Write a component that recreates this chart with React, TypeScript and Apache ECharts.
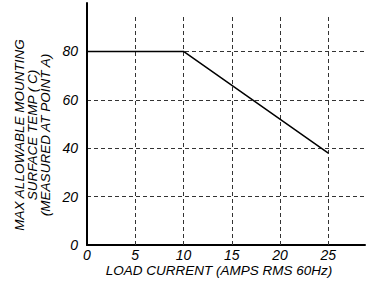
import React, { useEffect, useRef } from "react";
import * as echarts from "echarts";

const currentAmps = [0, 10, 25];
const surfaceTemp = [80, 80, 38];
const xGridValues = [5, 10, 15, 20, 25];
const xGridTop = 95;
const xTitle = "LOAD CURRENT (AMPS RMS 60Hz)";
const yTitle = "MAX ALLOWABLE MOUNTING\nSURFACE TEMP ( C)\n(MEASURED AT POINT A)";

const FONT = "Liberation Sans";

export default function App() {
  const ref = useRef<HTMLDivElement>(null);
  useEffect(() => {
    if (!ref.current) return;
    const chart = echarts.init(ref.current, null, { renderer: "svg" });
    const gridLine = { color: "#333", width: 1, type: [4, 3] as any };
    chart.setOption({
      animation: false,
      backgroundColor: "#fff",
      grid: { left: 87, right: 2, top: 3, bottom: 36 },
      xAxis: {
        type: "value",
        min: 0,
        max: 28.8,
        interval: 5,
        axisLine: { show: true, lineStyle: { color: "#000", width: 2 } },
        axisTick: { show: false },
        splitLine: { show: false },
        axisLabel: {
          showMaxLabel: false,
          color: "#000",
          fontFamily: FONT,
          fontStyle: "italic",
          fontSize: 14,
          margin: 3,
        },
      },
      yAxis: {
        type: "value",
        min: 0,
        max: 100,
        interval: 20,
        axisLine: { show: true, lineStyle: { color: "#000", width: 2 } },
        axisTick: { show: false },
        splitLine: { show: true, showMaxLine: false, showMinLine: false, lineStyle: gridLine },
        axisLabel: {
          showMaxLabel: false,
          color: "#000",
          fontFamily: FONT,
          fontStyle: "italic",
          fontSize: 14,
          margin: 9,
        },
      },
      graphic: [
        {
          type: "text",
          x: 219,
          y: 270,
          style: {
            text: xTitle,
            fill: "#000",
            fontFamily: FONT,
            fontStyle: "italic",
            fontSize: 13.5,
            align: "center",
            verticalAlign: "middle",
          },
        },
        {
          type: "text",
          x: 32,
          y: 135,
          rotation: Math.PI / 2,
          style: {
            text: yTitle,
            fill: "#000",
            fontFamily: FONT,
            fontStyle: "italic",
            fontSize: 13.5,
            align: "center",
            verticalAlign: "middle",
            lineHeight: 13,
          },
        },
      ],
      series: [
        {
          type: "line",
          data: currentAmps.map((x, i) => [x, surfaceTemp[i]]),
          symbol: "none",
          lineStyle: { color: "#000", width: 1.5 },
          z: 3,
          markLine: {
            silent: true,
            symbol: "none",
            label: { show: false },
            lineStyle: gridLine,
            z: 1,
            data: xGridValues.map((v) => [{ coord: [v, 0] }, { coord: [v, xGridTop] }]),
          },
        },
      ],
    });
    return () => chart.dispose();
  }, []);
  return (
    <div
      ref={ref}
      style={{ position: "absolute", left: 0, top: 0, width: 367, height: 281 }}
    />
  );
}
